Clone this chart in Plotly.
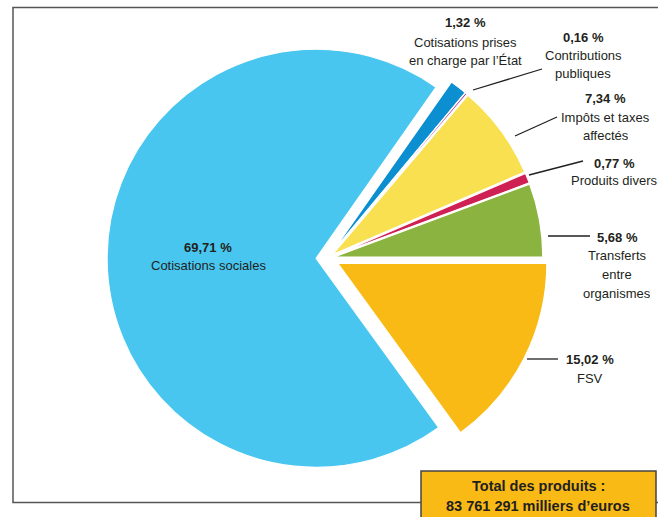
import plotly.graph_objects as go

# ---- data ----
categories = [
    "FSV",
    "Cotisations sociales",
    "Cotisations prises en charge par l’État",
    "Contributions publiques",
    "Impôts et taxes affectés",
    "Produits divers",
    "Transferts entre organismes",
]
# how each category name is broken over lines in the labels
label_lines = [
    ["FSV"],
    ["Cotisations sociales"],
    ["Cotisations prises", "en charge par l’État"],
    ["Contributions", "publiques"],
    ["Impôts et taxes", "affectés"],
    ["Produits divers"],
    ["Transferts", "entre", "organismes"],
]
values = [15.02, 69.71, 1.32, 0.16, 7.34, 0.77, 5.68]
value_labels = ["15,02 %", "69,71 %", "1,32 %", "0,16 %", "7,34 %", "0,77 %", "5,68 %"]
total_lines = ["Total des produits :", "83 761 291 milliers d’euros"]

colors = ["#F9BA15", "#48C6F0", "#0B8FD0", "#9C3592", "#F8E050", "#CE2052", "#8AB43F"]
pulls = [0.055, 0.055, 0.03, 0.03, 0.03, 0.03, 0.03]

W, H = 658, 517
FONT = "Liberation Sans, Arial, sans-serif"
TXT = "#231F20"


def px(x):
    return x / W


def py(y):
    return 1 - y / H


# pie geometry (pixels)
cx, cy, half = 327.6, 258.2, 220.5

fig = go.Figure(
    go.Pie(
        labels=categories,
        values=values,
        sort=False,
        direction="clockwise",
        rotation=90,
        pull=pulls,
        marker=dict(colors=colors, line=dict(color="white", width=1.2)),
        textinfo="none",
        hoverinfo="label+percent",
        showlegend=False,
        domain=dict(x=[px(cx - half), px(cx + half)], y=[py(cy + half), py(cy - half)]),
    )
)

shapes = []
# outer frame (open on the right)
frame = dict(color="#555555", width=1.5)
shapes.append(dict(type="line", xref="paper", yref="paper", x0=px(13), x1=px(13), y0=py(7.5), y1=py(502.5), line=frame))
shapes.append(dict(type="line", xref="paper", yref="paper", x0=px(12.3), x1=1.0, y0=py(7.5), y1=py(7.5), line=frame))
shapes.append(dict(type="line", xref="paper", yref="paper", x0=px(12.3), x1=1.0, y0=py(502.5), y1=py(502.5), line=frame))
# total box
shapes.append(dict(type="rect", xref="paper", yref="paper", x0=px(421), x1=px(656), y0=py(530), y1=py(471),
                   fillcolor="#F9BA15", line=dict(color="#444444", width=1.5)))

# leader lines (pixel endpoints)
leaders = [
    (527, 359, 558, 359),   # FSV
    (548, 236, 590, 236),   # Transferts
    (529, 175, 583, 161),   # Produits divers
    (515, 136, 557, 117),   # Impôts
    (473, 90, 542, 69),     # Contributions
]
for x0, y0, x1, y1 in leaders:
    shapes.append(dict(type="line", xref="paper", yref="paper", x0=px(x0), y0=py(y0), x1=px(x1), y1=py(y1),
                       line=dict(color=TXT, width=1.3)))

# label layout: x centre and y centre of each line (pixels)
label_pos = {
    0: (590, [359, 378]),
    1: (208, [247, 265.5]),
    2: (465, [23, 42, 60.5]),
    3: (583, [37, 55.5, 73.5]),
    4: (605.5, [99, 117.5, 135.5]),
    5: (614, [163, 181]),
    6: (617, [237.5, 256, 274.5, 293]),
}

annotations = []


def add_text(x, y, text, size, bold=False):
    annotations.append(dict(
        xref="paper", yref="paper", x=px(x), y=py(y), xanchor="center", yanchor="middle",
        text=f"<b>{text}</b>" if bold else text, showarrow=False, align="center",
        font=dict(family=FONT, size=size, color=TXT),
    ))


for i, (lx, ys) in label_pos.items():
    lines = [value_labels[i]] + label_lines[i]
    for j, (t, y) in enumerate(zip(lines, ys)):
        add_text(lx, y, t, 13, bold=(j == 0))

add_text(538, 486, total_lines[0], 14.5, bold=True)
add_text(537.5, 506, total_lines[1], 14.5, bold=True)

fig.update_layout(
    width=W, height=H,
    margin=dict(l=0, r=0, t=0, b=0),
    paper_bgcolor="white",
    plot_bgcolor="white",
    shapes=shapes,
    annotations=annotations,
)

fig.write_html(
    "out.html",
    config={"displayModeBar": False},
    post_script="document.body.style.margin='0';document.body.style.overflow='hidden';",
)
